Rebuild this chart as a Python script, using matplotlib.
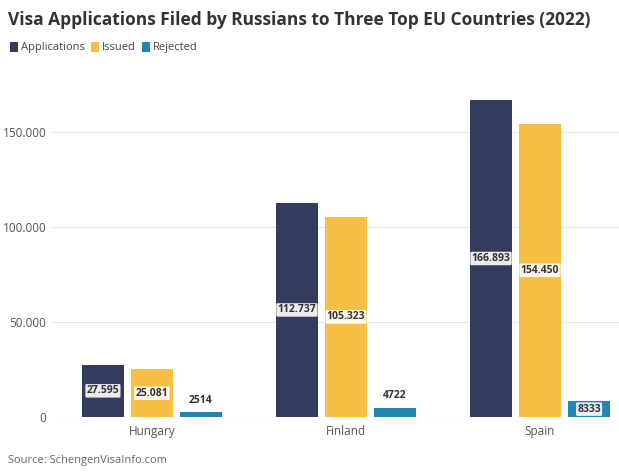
import matplotlib
matplotlib.use('Agg')
import matplotlib.pyplot as plt
import numpy as np
from matplotlib.ticker import FuncFormatter
from matplotlib.patches import Patch

plt.rcParams['font.family'] = ['Open Sans', 'DejaVu Sans']

# data
countries = ['Hungary', 'Finland', 'Spain']
applications = [27595, 112737, 166893]
issued = [25081, 105323, 154450]
rejected = [2514, 4722, 8333]
series_names = ['Applications', 'Issued', 'Rejected']
colors = ['#343c5e', '#f6bf45', '#1f87b1']

fig = plt.figure(figsize=(6.19, 4.75), dpi=100)
ax = fig.add_axes([0.084, 0.122, 0.916, 0.72])

x = np.arange(len(countries))
step = 49 / 194
width = 42 / 194

def fmt(v):
    return f"{v:,}".replace(',', '.')

for i, (vals, c) in enumerate(zip([applications, issued, rejected], colors)):
    pos = x + (i - 1) * step
    ax.bar(pos, vals, width, color=c, zorder=2)
    for p, v in zip(pos, vals):
        if v > 8000:
            txt = fmt(v) if v >= 10000 else str(v)
            ax.text(p, v / 2, txt, ha='center', va='center', fontsize=7.5, fontweight='bold',
                    color='#333333', zorder=3,
                    bbox=dict(boxstyle='round,pad=0.12', fc='white', ec='none', alpha=0.9))
        else:
            ax.text(p, v + 3500, str(v), ha='center', va='bottom', fontsize=7.5,
                    fontweight='bold', color='#333333')

ax.set_xlim(-0.515, 2.407)
ax.set_ylim(0, 180000)
ax.set_yticks([0, 50000, 100000, 150000])
ax.yaxis.set_major_formatter(FuncFormatter(lambda v, pos: fmt(int(v))))
ax.set_xticks(x)
ax.set_xticklabels(countries)
ax.grid(axis='y', color='#e6e6e6', linewidth=0.8, zorder=0)
for s in ax.spines.values():
    s.set_visible(False)
ax.tick_params(axis='both', length=0, labelsize=8.5, colors='#555555')
ax.tick_params(axis='x', pad=6)
ax.tick_params(axis='y', pad=4)

fig.text(0.013, 0.957, 'Visa Applications Filed by Russians to Three Top EU Countries (2022)',
         fontsize=12.5, fontweight='bold', color='#333333', va='center')

handles = [Patch(facecolor=c, edgecolor='none') for c in colors]
fig.legend(handles, series_names, loc='center left', bbox_to_anchor=(0.0, 0.9),
           ncol=3, frameon=False, fontsize=8, handlelength=0.7, handleheight=1.0,
           handletextpad=0.25, columnspacing=0.6, labelcolor='#444444')

fig.text(0.013, 0.031, 'Source: SchengenVisaInfo.com', fontsize=8, color='#666666', va='center')

fig.savefig('out.png', dpi=100)
